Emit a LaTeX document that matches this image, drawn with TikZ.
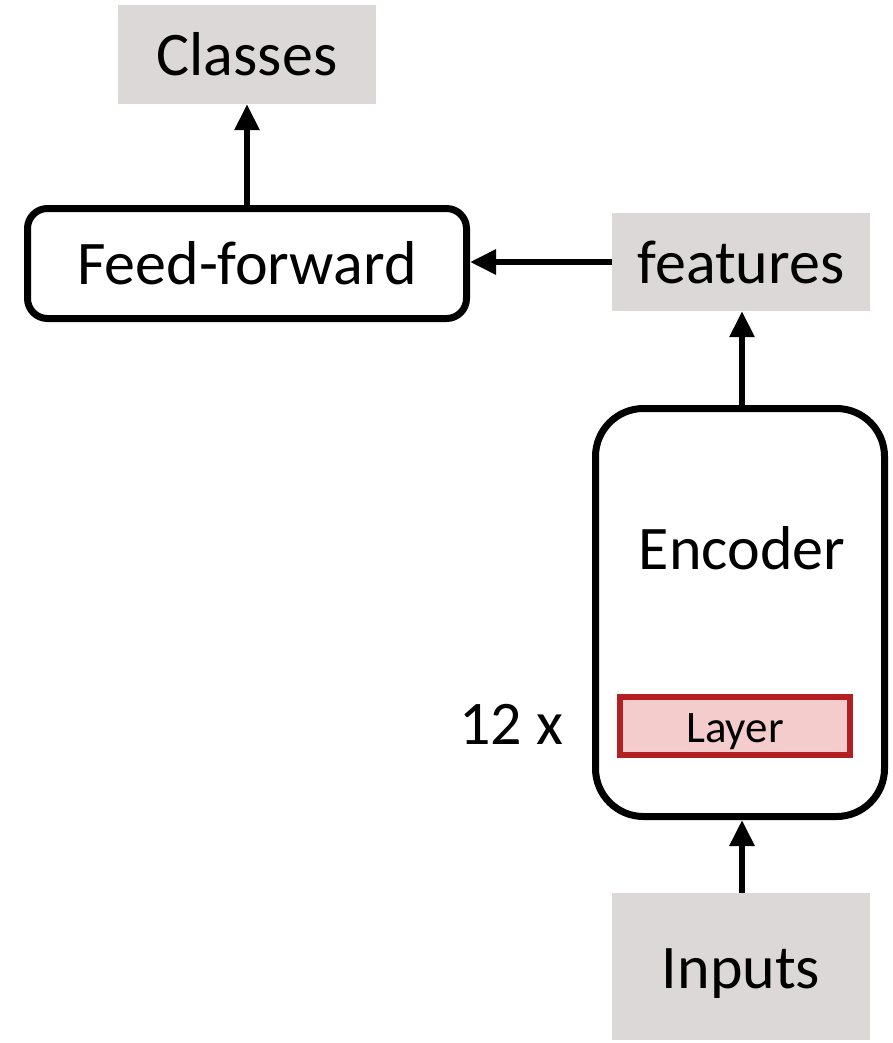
\documentclass[tikz,border=0pt]{standalone}
\usepackage{fontspec}
\setmainfont{Carlito}
\usetikzlibrary{arrows.meta}
\definecolor{boxgray}{HTML}{DCD8D7}
\definecolor{layerfill}{HTML}{F4CCCC}
\definecolor{layerdraw}{HTML}{B41F24}
\tikzset{
  graybox/.style={rectangle, fill=boxgray, inner sep=0pt, font=\fontsize{62}{70}\selectfont},
  roundbox/.style={rectangle, draw=black, line width=7pt, fill=white, inner sep=0pt, font=\fontsize{62}{70}\selectfont},
  layerbox/.style={rectangle, draw=layerdraw, fill=layerfill, line width=6pt, inner sep=0pt, font=\fontsize{45}{50}\selectfont},
  flow/.style={line width=6pt, -{Triangle[length=26pt,width=24pt]}},
}
\begin{document}
\begin{tikzpicture}[x=1pt,y=-1pt]
  \useasboundingbox (0,0) rectangle (892,1043);
  % output side
  \node[graybox, minimum width=258pt, minimum height=99pt] (classes) at (247,54.5) {Classes};
  \node[roundbox, rounded corners=20pt, minimum width=439pt, minimum height=110pt] (ff) at (247,263.5) {Feed-forward};
  \node[graybox, minimum width=258pt, minimum height=98pt] (feat) at (741,262) {features};
  % encoder stack
  \node[roundbox, rounded corners=48pt, minimum width=289pt, minimum height=408pt] (enc) at (740,612.5) {};
  \node[font=\fontsize{62}{70}\selectfont] (enclabel) at (742,548) {Encoder};
  \node[layerbox, minimum width=230pt, minimum height=58pt] (layer) at (735,726) {};
  \node[font=\fontsize{45}{50}\selectfont] (layerlabel) at (735,732) {Layer};
  \node[font=\fontsize{62}{70}\selectfont, anchor=center] (rep) at (511,724) {12 x};
  \node[graybox, minimum width=258pt, minimum height=147pt] (inputs) at (741,966.5) {};
  \node[font=\fontsize{62}{70}\selectfont] (inputslabel) at (741,974) {Inputs};
  % connectors
  \draw[flow] (inputs.north -| 742,0) -- (enc.south -| 742,0);
  \draw[flow] (enc.north -| 742,0) -- (feat.south -| 742,0);
  \draw[flow] (feat.west) -- (ff.east |- feat.west);
  \draw[flow] (ff.north) -- (classes.south);
\end{tikzpicture}
\end{document}
